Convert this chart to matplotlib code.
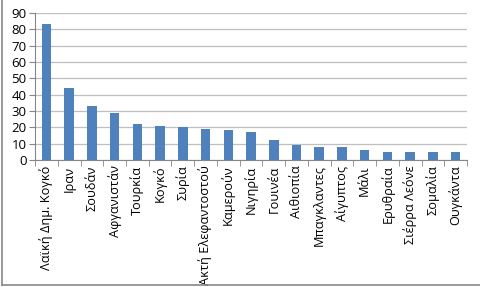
import numpy as np
import matplotlib.pyplot as plt
from matplotlib.lines import Line2D

# données
countries = ['Λαϊκή Δημ. Κογκό', 'Ιραν', 'Σουδάν', 'Αφγανιστάν', 'Τουρκία',
             'Κογκό', 'Συρία', 'Ακτή Ελεφαντοστού', 'Καμερούν', 'Νιγηρία',
             'Γουινέα', 'Αιθιοπία', 'Μπαγκλαντες', 'Αίγυπτος', 'Μάλι',
             'Ερυθραία', 'Σιέρρα Λεόνε', 'Σομαλία', 'Ουγκάντα']
values = [83, 44, 33, 29, 22, 21, 20, 19, 18, 17, 12, 9, 8, 8, 6, 5, 5, 5, 5]
yticks = list(range(0, 100, 10))

plt.rcParams['font.family'] = ['Open Sans', 'DejaVu Sans']

fig = plt.figure(figsize=(4.8, 2.87), dpi=100)
ax = fig.add_axes([0.073, 0.443, 0.9, 0.512])

x = np.arange(len(countries))
ax.bar(x, values, width=0.42, color='#4F81BD', zorder=3)

ax.set_xlim(-0.5, len(countries) - 0.5)
ax.set_ylim(0, 90)
ax.set_yticks(yticks)
ax.set_xticks(x)
ax.set_xticklabels(countries, rotation=90, fontsize=9.2)
ax.tick_params(axis='x', length=0, pad=4)
ax.set_xticks(np.arange(-0.5, len(countries)), minor=True)
ax.tick_params(axis='x', which='minor', length=4, color='#868686')
ax.tick_params(axis='y', labelsize=9.5, length=4, color='#868686', pad=2)

ax.grid(axis='y', color='#bfbfbf', linewidth=0.9, zorder=0)
for s in ['top', 'right']:
    ax.spines[s].set_visible(False)
ax.spines['left'].set_color('#868686')
ax.spines['bottom'].set_color('#868686')

# cadre du graphique
fig.add_artist(Line2D([0.005, 0.005], [0.007, 1], color='#888888', lw=1.2))
fig.add_artist(Line2D([0.005, 1], [0.007, 0.007], color='#888888', lw=1.2))

fig.savefig('out.png', dpi=100)
